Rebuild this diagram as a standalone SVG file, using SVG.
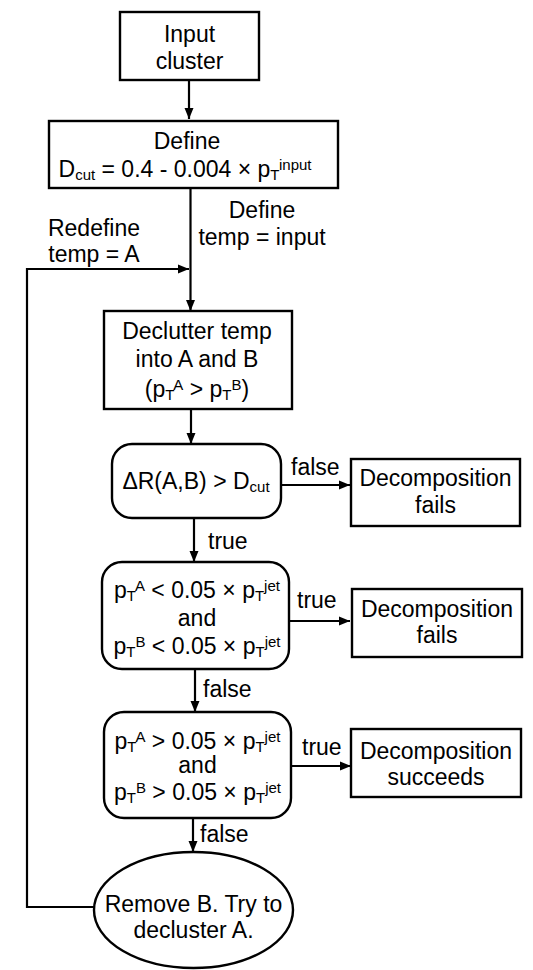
<svg xmlns="http://www.w3.org/2000/svg" width="533" height="970" viewBox="0 0 533 970">
<defs>
<marker id="arr" markerUnits="userSpaceOnUse" markerWidth="12" markerHeight="10" refX="11" refY="5" orient="auto">
<path d="M0,0.5 L11,5 L0,9.5 z" fill="#000"/>
</marker>
<style>
.n{fill:#fff;stroke:#000;stroke-width:2.4}
.c{fill:none;stroke:#000;stroke-width:2.2;marker-end:url(#arr)}
.l{fill:none;stroke:#000;stroke-width:2.2}
text{font-family:"Liberation Sans",Arial,sans-serif;font-size:23px;fill:#000}
.m{text-anchor:middle}
.s{font-size:15px}
</style>
</defs>
<rect width="533" height="970" fill="#fff"/>
<g id="connectors">
<line class="c" x1="189" y1="80" x2="189" y2="119"/>
<line class="l" x1="190.5" y1="188" x2="190.5" y2="269"/>
<line class="c" x1="190.5" y1="269" x2="190.5" y2="311"/>
<path class="c" d="M94,907 H27 V269 H189"/>
<line class="c" x1="191" y1="409" x2="191" y2="444"/>
<line class="c" x1="281" y1="485" x2="350" y2="485"/>
<line class="c" x1="194" y1="518" x2="194" y2="562"/>
<line class="c" x1="289" y1="621" x2="350" y2="621"/>
<line class="c" x1="195" y1="669" x2="195" y2="712"/>
<line class="c" x1="291" y1="766" x2="351" y2="766"/>
<line class="c" x1="193" y1="818" x2="193" y2="852"/>
<text x="262" y="218" class="m">Define</text>
<text x="262" y="245" class="m">temp = input</text>
<text x="94" y="236" class="m">Redefine</text>
<text x="94" y="262" class="m">temp = A</text>
<text x="291" y="475">false</text>
<text x="208" y="549">true</text>
<text x="297" y="608">true</text>
<text x="203" y="697">false</text>
<text x="302" y="755">true</text>
<text x="200" y="842">false</text>
</g>
<g id="input">
<rect class="n" x="120" y="12" width="139" height="68"/>
<text x="189.5" y="42" class="m">Input</text>
<text x="189.5" y="69" class="m">cluster</text>
</g>
<g id="define">
<rect class="n" x="49" y="121" width="289" height="67"/>
<text x="187" y="149" class="m">Define</text>
<text x="185" y="177" class="m">D<tspan class="s" dy="3">cut</tspan><tspan dy="-3"> = 0.4 - 0.004 × p</tspan><tspan class="s" dy="3">T</tspan><tspan class="s" dy="-10">input</tspan></text>
</g>
<g id="declutter">
<rect class="n" x="104" y="311" width="188" height="98"/>
<text x="197" y="339" class="m">Declutter temp</text>
<text x="197" y="367" class="m">into A and B</text>
<text x="197" y="397" class="m">(p<tspan class="s" dy="3">T</tspan><tspan class="s" dy="-10">A</tspan><tspan dy="7"> &gt; p</tspan><tspan class="s" dy="3">T</tspan><tspan class="s" dy="-10">B</tspan><tspan dy="7">)</tspan></text>
</g>
<g id="dr">
<rect class="n" x="112" y="444" width="169" height="74" rx="20"/>
<text x="196" y="489" class="m">ΔR(A,B) &gt; D<tspan class="s" dy="3">cut</tspan></text>
</g>
<g id="fails1">
<rect class="n" x="351" y="459" width="169" height="67"/>
<text x="435.5" y="486" class="m">Decomposition</text>
<text x="435.5" y="513" class="m">fails</text>
</g>
<g id="lowpt">
<rect class="n" x="102" y="562" width="187" height="107" rx="20"/>
<text x="197" y="598" class="m">p<tspan class="s" dy="3">T</tspan><tspan class="s" dy="-10">A</tspan><tspan dy="7"> &lt; 0.05 × p</tspan><tspan class="s" dy="3">T</tspan><tspan class="s" dy="-10">jet</tspan></text>
<text x="197" y="626" class="m">and</text>
<text x="197" y="654" class="m">p<tspan class="s" dy="3">T</tspan><tspan class="s" dy="-10">B</tspan><tspan dy="7"> &lt; 0.05 × p</tspan><tspan class="s" dy="3">T</tspan><tspan class="s" dy="-10">jet</tspan></text>
</g>
<g id="fails2">
<rect class="n" x="352" y="589" width="170" height="68"/>
<text x="437" y="617" class="m">Decomposition</text>
<text x="437" y="643" class="m">fails</text>
</g>
<g id="highpt">
<rect class="n" x="104" y="712" width="187" height="106" rx="20"/>
<text x="197.5" y="749" class="m">p<tspan class="s" dy="3">T</tspan><tspan class="s" dy="-10">A</tspan><tspan dy="7"> &gt; 0.05 × p</tspan><tspan class="s" dy="3">T</tspan><tspan class="s" dy="-10">jet</tspan></text>
<text x="197.5" y="773" class="m">and</text>
<text x="197.5" y="800" class="m">p<tspan class="s" dy="3">T</tspan><tspan class="s" dy="-10">B</tspan><tspan dy="7"> &gt; 0.05 × p</tspan><tspan class="s" dy="3">T</tspan><tspan class="s" dy="-10">jet</tspan></text>
</g>
<g id="succeeds">
<rect class="n" x="351" y="729" width="170" height="68"/>
<text x="436" y="759" class="m">Decomposition</text>
<text x="436" y="785" class="m">succeeds</text>
</g>
<g id="remove">
<ellipse class="n" cx="193.5" cy="910" rx="99.5" ry="58"/>
<text x="193.5" y="912" class="m">Remove B. Try to</text>
<text x="193.5" y="938" class="m">decluster A.</text>
</g>
</svg>
